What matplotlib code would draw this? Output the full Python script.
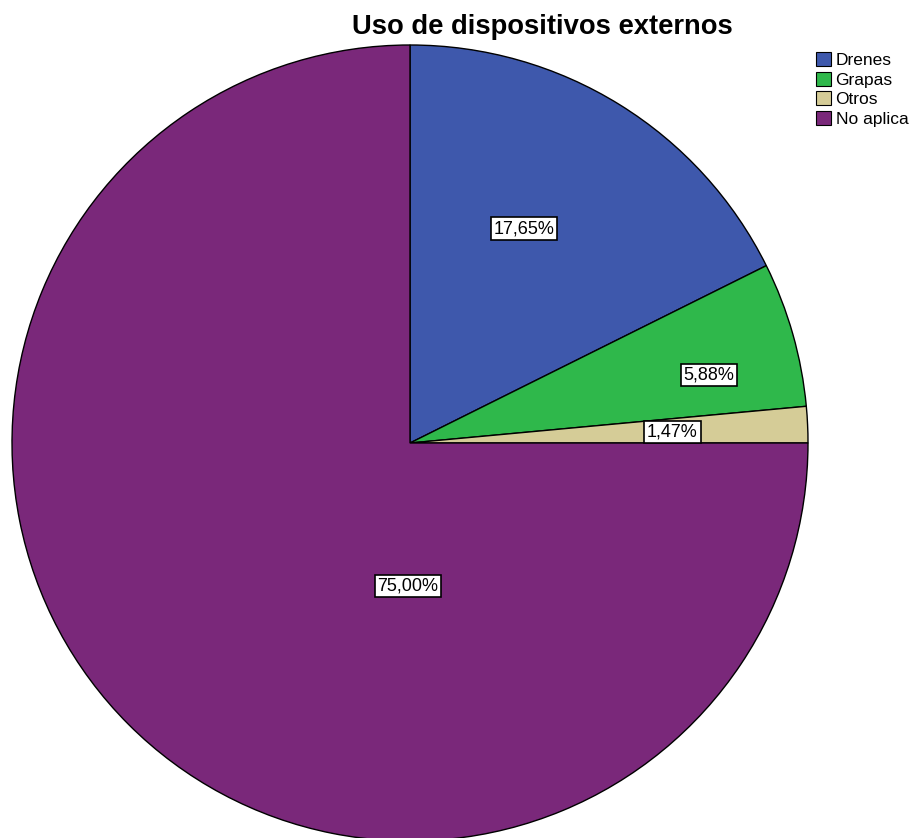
import numpy as np
import matplotlib.pyplot as plt
from matplotlib.patches import Patch

plt.rcParams['font.family'] = ['Liberation Sans', 'DejaVu Sans']

categories = ['Drenes', 'Grapas', 'Otros', 'No aplica']
percentages = [17.65, 5.88, 1.47, 75.00]
colors = ['#3e58ac', '#2fb84b', '#d5cc97', '#7a287a']
# label placement: fraction of radius, angle in degrees
label_r = [0.61, 0.77, 0.66, 0.36]
label_angle = [62, 12.8, 2.4, -90.8]

W, H = 913, 838
fig = plt.figure(figsize=(W / 100, H / 100), dpi=100)
cx, cy, R = 410, 443, 398
ax = fig.add_axes([(cx - R) / W, (H - cy - R) / H, 2 * R / W, 2 * R / H])

wedges, _ = ax.pie(percentages, colors=colors, startangle=90, counterclock=False,
                   radius=1, wedgeprops=dict(edgecolor='black', linewidth=1))
ax.set_xlim(-1, 1)
ax.set_ylim(-1, 1)
ax.axis('off')

for pct, r, a in zip(percentages, label_r, label_angle):
    t = np.deg2rad(a)
    ax.text(r * np.cos(t), r * np.sin(t), f'{pct:.2f}%'.replace('.', ','),
            ha='center', va='center', fontsize=13,
            bbox=dict(boxstyle='square,pad=0.15', fc='white', ec='black', lw=1.2))

fig.text(542 / W, 1 - 27 / H, 'Uso de dispositivos externos', ha='center', va='center',
         fontsize=19.7, fontweight='bold')

handles = [Patch(facecolor=c, edgecolor='black', lw=0.8) for c in colors]
fig.legend(handles, categories, loc='upper left', bbox_to_anchor=(813 / W, 1 - 49 / H),
           frameon=False, fontsize=12.5, handlelength=0.85, handleheight=0.85,
           handletextpad=0.25, labelspacing=0.2, borderaxespad=0, borderpad=0.2)

fig.savefig('out.png', dpi=100)
